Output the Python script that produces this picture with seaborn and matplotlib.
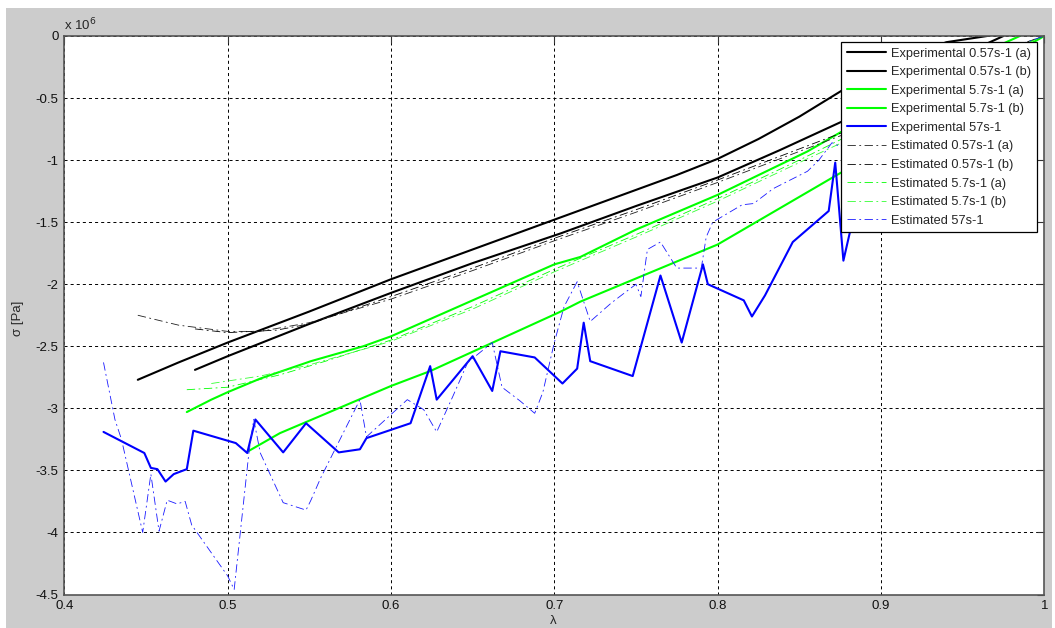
import matplotlib
matplotlib.use("Agg")
import matplotlib.pyplot as plt
from matplotlib.patches import Rectangle
import numpy as np
import pandas as pd
import seaborn as sns

# Stress values are in units of 1e6 Pa (shown with the "x 10^6" multiplier)
lam_exp_057a = [0.445, 0.47, 0.5, 0.55, 0.6, 0.65, 0.7, 0.75, 0.775, 0.8, 0.825, 0.85, 0.876, 0.91, 0.94, 0.965]
sig_exp_057a = [-2.77, -2.63, -2.47, -2.22, -1.96, -1.72, -1.48, -1.24, -1.12, -0.99, -0.83, -0.65, -0.44, -0.2, -0.05, 0.0]

lam_exp_057b = [0.48, 0.5, 0.55, 0.6, 0.65, 0.704, 0.75, 0.8, 0.838, 0.876, 0.92, 0.95, 0.975]
sig_exp_057b = [-2.69, -2.58, -2.32, -2.07, -1.83, -1.59, -1.37, -1.14, -0.92, -0.69, -0.38, -0.15, 0.0]

lam_exp_57a = [0.475, 0.49, 0.5, 0.52, 0.551, 0.583, 0.6, 0.65, 0.7, 0.716, 0.75, 0.8, 0.855, 0.876, 0.92, 0.96, 0.985]
sig_exp_57a = [-3.03, -2.93, -2.87, -2.76, -2.62, -2.5, -2.42, -2.13, -1.84, -1.78, -1.56, -1.28, -0.93, -0.77, -0.45, -0.15, 0.0]

lam_exp_57b = [0.512, 0.532, 0.6, 0.624, 0.704, 0.716, 0.8, 0.873, 0.9, 0.95, 0.98, 1.0]
sig_exp_57b = [-3.35, -3.2, -2.82, -2.70, -2.22, -2.14, -1.68, -1.12, -0.92, -0.45, -0.15, 0.0]

lam_exp_570 = [0.424, 0.449, 0.453, 0.457, 0.462, 0.467, 0.475, 0.479, 0.505, 0.512, 0.517,
               0.534, 0.548, 0.568, 0.581, 0.585, 0.612, 0.624, 0.628, 0.650, 0.662, 0.667,
               0.688, 0.705, 0.714, 0.718, 0.722, 0.748, 0.765, 0.778, 0.791, 0.794, 0.816,
               0.821, 0.829, 0.846, 0.868, 0.872, 0.877, 0.881, 0.89, 0.91]
sig_exp_570 = [-3.19, -3.36, -3.48, -3.49, -3.59, -3.53, -3.49, -3.18, -3.28, -3.36, -3.09,
               -3.355, -3.12, -3.355, -3.33, -3.24, -3.12, -2.66, -2.93, -2.58, -2.86, -2.54,
               -2.59, -2.80, -2.68, -2.31, -2.62, -2.74, -1.93, -2.47, -1.84, -2.00, -2.13,
               -2.26, -2.09, -1.66, -1.41, -1.02, -1.81, -1.58, -1.35, -1.05]

lam_est_057a = [0.445, 0.47, 0.5, 0.52, 0.55, 0.6, 0.65, 0.7, 0.75, 0.8, 0.85, 0.876, 0.92, 0.96, 1.0]
sig_est_057a = [-2.25, -2.33, -2.38, -2.38, -2.31, -2.12, -1.89, -1.65, -1.42, -1.18, -0.93, -0.8, -0.5, -0.2, 0.0]

lam_est_057b = [0.48, 0.5, 0.53, 0.55, 0.6, 0.65, 0.7, 0.75, 0.8, 0.85, 0.876, 0.92, 0.96, 1.0]
sig_est_057b = [-2.36, -2.39, -2.37, -2.32, -2.10, -1.87, -1.63, -1.40, -1.16, -0.91, -0.78, -0.48, -0.18, 0.0]

lam_est_57a = [0.475, 0.5, 0.532, 0.56, 0.6, 0.65, 0.7, 0.75, 0.8, 0.85, 0.876, 0.92, 0.96, 1.0]
sig_est_57a = [-2.85, -2.83, -2.73, -2.62, -2.45, -2.18, -1.88, -1.6, -1.31, -1.0, -0.83, -0.5, -0.2, 0.0]

lam_est_57b = [0.49, 0.52, 0.55, 0.6, 0.65, 0.7, 0.75, 0.8, 0.85, 0.876, 0.92, 0.96, 1.0]
sig_est_57b = [-2.80, -2.74, -2.65, -2.46, -2.2, -1.9, -1.62, -1.33, -1.02, -0.86, -0.52, -0.22, 0.0]

lam_est_570 = [0.424, 0.431, 0.435, 0.448, 0.453, 0.458, 0.463, 0.469, 0.474, 0.478, 0.5, 0.504,
               0.513, 0.516, 0.52, 0.534, 0.548, 0.551, 0.557, 0.581, 0.585, 0.61, 0.62, 0.628,
               0.638, 0.647, 0.662, 0.668, 0.679, 0.688, 0.693, 0.70, 0.706, 0.714, 0.722, 0.735,
               0.75, 0.753, 0.757, 0.765, 0.775, 0.79, 0.793, 0.797, 0.815, 0.822, 0.834, 0.855,
               0.862, 0.870, 0.875, 0.92, 0.96, 1.0]
sig_est_570 = [-2.63, -3.09, -3.25, -4.0, -3.53, -3.99, -3.74, -3.77, -3.75, -3.94, -4.35, -4.46,
               -3.36, -3.09, -3.36, -3.76, -3.82, -3.74, -3.56, -2.93, -3.23, -2.93, -3.01, -3.19,
               -2.90, -2.63, -2.47, -2.83, -2.94, -3.04, -2.87, -2.47, -2.18, -1.98, -2.30, -2.15,
               -2.0, -2.10, -1.72, -1.66, -1.87, -1.87, -1.62, -1.50, -1.36, -1.35, -1.23, -1.09,
               -1.0, -0.86, -0.89, -0.5, -0.18, 0.0]

x_ticks = [0.4, 0.5, 0.6, 0.7, 0.8, 0.9, 1.0]
x_tick_labels = ["0.4", "0.5", "0.6", "0.7", "0.8", "0.9", "1"]
y_ticks = [0, -0.5, -1, -1.5, -2, -2.5, -3, -3.5, -4, -4.5]
y_tick_labels = ["0", "-0.5", "-1", "-1.5", "-2", "-2.5", "-3", "-3.5", "-4", "-4.5"]

sns.set_theme(style="white")
plt.rcParams["font.family"] = ["Liberation Sans", "DejaVu Sans"]
plt.rcParams["axes.unicode_minus"] = False
plt.rcParams["lines.scale_dashes"] = False

FS = 9.5
LFS = 9.2
fig = plt.figure(figsize=(10.55, 6.28), dpi=100, facecolor="white")
fig.patches.append(Rectangle((6 / 1055, 0), 1046 / 1055, 620 / 628,
                             transform=fig.transFigure, facecolor="#cccccc",
                             edgecolor="none", zorder=-10))
ax = fig.add_axes([64.3 / 1055, (628 - 594.5) / 628, (1044.3 - 64.3) / 1055, (594.5 - 36) / 628])
ax.set_facecolor("white")

dashdot = (0, (6, 2.5, 1.3, 2.5))
series = [
    (lam_exp_057a, sig_exp_057a, "Experimental 0.57s-1 (a)", "black", "-", 1.5),
    (lam_exp_057b, sig_exp_057b, "Experimental 0.57s-1 (b)", "black", "-", 1.5),
    (lam_exp_57a, sig_exp_57a, "Experimental 5.7s-1 (a)", "#00ff00", "-", 1.5),
    (lam_exp_57b, sig_exp_57b, "Experimental 5.7s-1 (b)", "#00ff00", "-", 1.5),
    (lam_exp_570, sig_exp_570, "Experimental 57s-1", "#0000ff", "-", 1.5),
    (lam_est_057a, sig_est_057a, "Estimated 0.57s-1 (a)", "#202020", dashdot, 0.6),
    (lam_est_057b, sig_est_057b, "Estimated 0.57s-1 (b)", "black", dashdot, 0.6),
    (lam_est_57a, sig_est_57a, "Estimated 5.7s-1 (a)", "#00ff00", dashdot, 0.6),
    (lam_est_57b, sig_est_57b, "Estimated 5.7s-1 (b)", "#33ff33", dashdot, 0.6),
    (lam_est_570, sig_est_570, "Estimated 57s-1", "#1a1aff", dashdot, 0.6),
]
for lam, sig, name, col, ls, lw in series:
    df = pd.DataFrame({"lam": lam, "sig": sig})
    sns.lineplot(data=df, x="lam", y="sig", ax=ax, color=col, linestyle=ls,
                 linewidth=lw, label=name, sort=False, estimator=None)

ax.set_xlim(0.4, 1.0)
ax.set_ylim(-4.5, 0)
ax.set_xticks(x_ticks)
ax.set_xticklabels(x_tick_labels)
ax.set_yticks(y_ticks)
ax.set_yticklabels(y_tick_labels)
ax.tick_params(direction="in", length=5, width=0.8, color="#333333",
               top=True, right=True, labelsize=FS, labelcolor="#111111", pad=4)
ax.grid(True, color="black", linestyle=(0, (2.2, 2.2)), linewidth=0.7)
for sp in ax.spines.values():
    sp.set_color("#555555")
    sp.set_linewidth(1.2)
ax.set_xlabel("")
ax.set_ylabel("")

fig.text(553 / 1055, 1 - 621 / 628, "λ", ha="center", va="center", fontsize=FS)
fig.text(18 / 1055, 1 - 318 / 628, "σ [Pa]", ha="center", va="center",
         rotation=90, fontsize=FS)
fig.text(64 / 1055, 1 - 30 / 628, "x 10$^{6}$", ha="left", va="baseline", fontsize=FS)

leg = ax.legend(loc="upper left", bbox_to_anchor=(0.793, 0.989), borderaxespad=0,
                fontsize=LFS, frameon=True, fancybox=False, framealpha=1,
                edgecolor="black", handlelength=3.0, handletextpad=0.4,
                labelspacing=0.51, borderpad=0.45)
leg.get_frame().set_linewidth(0.9)

fig.savefig("out.png", dpi=100, facecolor=fig.get_facecolor())
